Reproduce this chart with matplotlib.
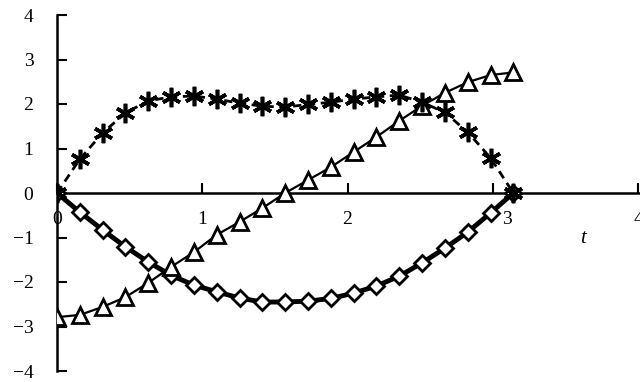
import matplotlib.pyplot as plt
import matplotlib.transforms as mtransforms
import numpy as np

# sample times: 21 points over [0, pi]
t = np.linspace(0.0, np.pi, 21)

star_vals = [0.0, 0.76, 1.35, 1.80, 2.07, 2.16, 2.18, 2.11, 2.02, 1.95, 1.93,
             1.99, 2.04, 2.11, 2.16, 2.20, 2.04, 1.81, 1.37, 0.79, 0.0]
tri_vals = [-2.79, -2.74, -2.56, -2.34, -2.02, -1.66, -1.33, -0.94, -0.65, -0.34, 0.0,
            0.29, 0.58, 0.92, 1.26, 1.62, 1.96, 2.25, 2.49, 2.65, 2.71]
dia_vals = [0.0, -0.43, -0.83, -1.21, -1.55, -1.85, -2.07, -2.22, -2.36, -2.45, -2.45,
            -2.43, -2.37, -2.25, -2.09, -1.87, -1.57, -1.24, -0.88, -0.45, 0.0]

x_ticks = [0, 1, 2, 3, 4]
y_ticks = [-4, -3, -2, -1, 0, 1, 2, 3, 4]

plt.rcParams["font.family"] = ["Liberation Serif", "DejaVu Serif"]

fig = plt.figure(figsize=(6.4, 3.82), dpi=100)
ax = fig.add_axes([57 / 640, 11 / 382, 581 / 640, 356 / 382])

ax.plot(t, dia_vals, color="black", linewidth=3.5, marker="D", markersize=8.5,
        markerfacecolor="white", markeredgecolor="black", markeredgewidth=2.0, zorder=3)
ax.plot(t, tri_vals, color="black", linewidth=1.6, marker="^", markersize=12,
        markerfacecolor="white", markeredgecolor="black", markeredgewidth=2.0, zorder=4)
ax.plot(t, star_vals, color="black", linewidth=2.0, linestyle=(0, (3, 2)),
        marker=(6, 2, 0), markersize=14, markeredgewidth=2.6, zorder=5)

ax.set_xlim(0, 4)
ax.set_ylim(-4, 4)
ax.spines["left"].set_position(("data", 0))
ax.spines["bottom"].set_position(("data", 0))
ax.spines["top"].set_visible(False)
ax.spines["right"].set_visible(False)
ax.spines["left"].set_linewidth(1.8)
ax.spines["bottom"].set_linewidth(1.8)
ax.spines["bottom"].set_bounds(0, 4.1)
ax.spines["bottom"].set_clip_on(False)

ax.set_xticks(x_ticks)
ax.set_yticks(y_ticks)
ax.set_yticklabels([str(v).replace("-", "\u2212") for v in y_ticks])
ax.tick_params(axis="y", direction="in", length=7, width=1.5, pad=17, labelsize=14)
ax.tick_params(axis="x", direction="in", length=7, width=1.5, pad=13, labelsize=14)

# the "3" label sits a little to the right in the original
offset = mtransforms.ScaledTranslation(10 / 72, 0, fig.dpi_scale_trans)
lbl3 = ax.get_xticklabels()[3]
lbl3.set_transform(lbl3.get_transform() + offset)

ax.text(3.62, -1.03, "t", fontsize=15, fontstyle="italic", ha="center", va="center")

fig.savefig("out.png", dpi=100)
